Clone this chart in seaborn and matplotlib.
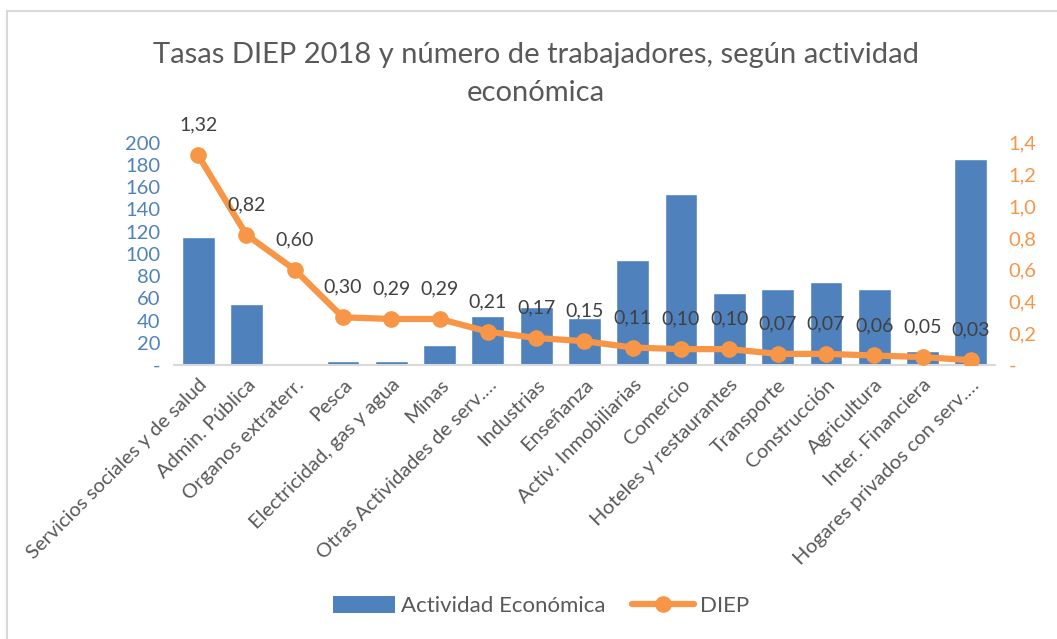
import numpy as np
import pandas as pd
import matplotlib
matplotlib.use("Agg")
import matplotlib.pyplot as plt
import seaborn as sns
from matplotlib.patches import Rectangle, Patch
from matplotlib.lines import Line2D
from matplotlib.ticker import FuncFormatter, MultipleLocator

categories = ["Servicios sociales y de salud", "Admin. Pública", "Organos extraterr.",
              "Pesca", "Electricidad, gas y agua", "Minas", "Otras Actividades de serv.…",
              "Industrias", "Enseñanza", "Activ. Inmobiliarias", "Comercio",
              "Hoteles y restaurantes", "Transporte", "Construcción", "Agricultura",
              "Inter. Financiera", "Hogares privados con serv.…"]
trabajadores = [115, 55, 0, 4, 4, 18, 44, 52, 42, 94, 154, 65, 68, 75, 68, 13, 185]
diep = [1.32, 0.82, 0.60, 0.30, 0.29, 0.29, 0.21, 0.17, 0.15, 0.11, 0.10, 0.10,
        0.07, 0.07, 0.06, 0.05, 0.03]
title = "Tasas DIEP 2018 y número de trabajadores, según actividad\neconómica"

BLUE = "#4F81BD"
ORANGE = "#F79646"
GRAY = "#595959"

sns.set_style("white")
plt.rcParams["font.family"] = ["Lato", "DejaVu Sans"]

df = pd.DataFrame({"cat": categories, "trab": trabajadores, "diep": diep,
                   "idx": np.arange(len(categories))})

fig = plt.figure(figsize=(10.57, 6.39), dpi=100)
ax = fig.add_axes([0.1646, 0.4288, 0.7767, 0.348])
sns.barplot(data=df, x="idx", y="trab", color=BLUE, saturation=1, width=0.68, ax=ax)
ax.set_ylim(0, 200)
ax.yaxis.set_major_locator(MultipleLocator(20))
ax.yaxis.set_major_formatter(FuncFormatter(lambda v, p: "-" if abs(v) < 1e-9 else f"{v:.0f}"))
ax.tick_params(axis="y", colors=BLUE, labelsize=14.5, length=0, pad=10)
ax.set_xlim(-0.5, len(categories) - 0.5)
ax.set_xticks(df["idx"])
ax.set_xticklabels(categories, rotation=45, ha="right", rotation_mode="anchor",
                   color=GRAY, fontsize=14.5)
ax.tick_params(axis="x", length=0, pad=8)
ax.set_xlabel("")
ax.set_ylabel("")
for s in ["top", "right", "left"]:
    ax.spines[s].set_visible(False)
ax.spines["bottom"].set_color("#d9d9d9")
ax.spines["bottom"].set_linewidth(1.5)

ax2 = ax.twinx()
sns.lineplot(data=df, x="idx", y="diep", color=ORANGE, linewidth=4.5, marker="o",
             markersize=12, markeredgewidth=0, ax=ax2, zorder=3)
ax2.set_ylim(0, 1.4)
ax2.yaxis.set_major_locator(MultipleLocator(0.2))
ax2.yaxis.set_major_formatter(FuncFormatter(
    lambda v, p: "-" if abs(v) < 1e-9 else f"{v:.1f}".replace(".", ",")))
ax2.tick_params(axis="y", colors=ORANGE, labelsize=14.5, length=0, pad=10)
ax2.set_ylabel("")
ax2.set_xlabel("")
for s in ["top", "right", "left", "bottom"]:
    ax2.spines[s].set_visible(False)
ax2.set_xlim(-0.5, len(categories) - 0.5)

for i, v in zip(df["idx"], df["diep"]):
    ax2.annotate(f"{v:.2f}".replace(".", ","), (i, v), xytext=(0, 30),
                 textcoords="offset pixels", ha="center", va="center",
                 fontsize=14, color="#404040")

fig.text(0.507, 0.884, title, ha="center", va="center", fontsize=21,
         color=GRAY, linespacing=1.55)

handles = [Patch(facecolor=BLUE, edgecolor="none"),
           Line2D([0], [0], color=ORANGE, lw=4.5, marker="o", markersize=12, markeredgewidth=0)]
fig.legend(handles, ["Actividad Económica", "DIEP"], loc="center",
           bbox_to_anchor=(0.512, 1 - 606 / 639), ncol=2, frameon=False,
           fontsize=16, handlelength=2.8, handleheight=0.8, columnspacing=1.2,
           handletextpad=0.25, labelcolor=GRAY)

fig.add_artist(Rectangle((7 / 1057, -0.05), 1.2, 1 - 11 / 639 + 0.05,
                         transform=fig.transFigure, fill=False,
                         edgecolor="#d9d9d9", linewidth=1.5))

fig.savefig("out.png", dpi=100)
